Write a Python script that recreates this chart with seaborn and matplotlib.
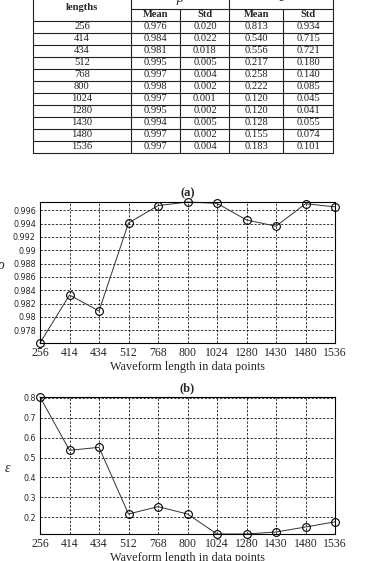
import numpy as np
import pandas as pd
import matplotlib
matplotlib.use("Agg")
import matplotlib.pyplot as plt
import seaborn as sns

# table values
lengths = ["256", "414", "434", "512", "768", "800", "1024", "1280", "1430", "1480", "1536"]
rho_mean = ["0.976", "0.984", "0.981", "0.995", "0.997", "0.998", "0.997", "0.995", "0.994", "0.997", "0.997"]
rho_std = ["0.020", "0.022", "0.018", "0.005", "0.004", "0.002", "0.001", "0.002", "0.005", "0.002", "0.004"]
eps_mean = ["0.813", "0.540", "0.556", "0.217", "0.258", "0.222", "0.120", "0.120", "0.128", "0.155", "0.183"]
eps_std = ["0.934", "0.715", "0.721", "0.180", "0.140", "0.085", "0.045", "0.041", "0.055", "0.074", "0.101"]

# curve values
rho_curve = [0.9761, 0.9833, 0.9809, 0.9941, 0.9967, 0.99725, 0.99705, 0.99455, 0.99362, 0.99699, 0.99652]
eps_curve = [0.803, 0.536, 0.551, 0.217, 0.254, 0.217, 0.117, 0.117, 0.127, 0.152, 0.178]

rho_ticks = [0.978, 0.98, 0.982, 0.984, 0.986, 0.988, 0.99, 0.992, 0.994, 0.996]
eps_ticks = [0.2, 0.3, 0.4, 0.5, 0.6, 0.7, 0.8]

sns.set_style("white")
plt.rcParams["font.family"] = ["Liberation Serif", "DejaVu Serif"]

W, H = 392, 561
fig = plt.figure(figsize=(W / 100, H / 100), dpi=100)

# ---- table, drawn in pixel coords on an overlay ----
tab = fig.add_axes([0, 0, 1, 1])
tab.set_xlim(0, W)
tab.set_ylim(H, 0)
tab.axis("off")

cols = [33.5, 131, 180.5, 229.5, 283.5, 333.5]
row_top = 20.5
row_h = 12
n = len(lengths)
bottom = row_top + n * row_h
lk = dict(color="#222222", lw=0.8)
for x in cols:
    y0 = -1 if x in (cols[0], cols[1], cols[3], cols[5]) else 8.5
    tab.plot([x, x], [y0, bottom], **lk)
tab.plot([cols[1], cols[5]], [8.5, 8.5], **lk)
for i in range(n + 1):
    y = row_top + i * row_h
    tab.plot([cols[0], cols[5]], [y, y], **lk)

fs = 7.6
centers = [82, 155.7, 205, 256.5, 308.5]
tab.text(82, 7, "lengths", ha="center", va="center", fontsize=fs, fontweight="bold")
tab.text(180, -2, "ρ", ha="center", va="center", fontsize=10, style="italic")
tab.text(281, -3, "ε", ha="center", va="center", fontsize=10, style="italic")
for c, lab in zip(centers[1:], ["Mean", "Std", "Mean", "Std"]):
    tab.text(c, 14.8, lab, ha="center", va="center", fontsize=fs, fontweight="bold")
for i in range(n):
    y = row_top + (i + 0.5) * row_h
    row = [lengths[i], rho_mean[i], rho_std[i], eps_mean[i], eps_std[i]]
    for c, v in zip(centers, row):
        tab.text(c, y, v, ha="center", va="center", fontsize=fs, color="#222222")


def panel(rect, values, ticks, title):
    ax = fig.add_axes(rect)
    df = pd.DataFrame({"pos": np.arange(len(lengths)), "val": values})
    sns.lineplot(data=df, x="pos", y="val", ax=ax, color="#333333", lw=0.7,
                 marker="o", markersize=5.6, markerfacecolor="none",
                 markeredgecolor="black", markeredgewidth=0.8)
    for l in ax.lines:
        l.set_clip_on(False)
    # MATLAB-style tight limits
    ax.set_xlim(0, len(lengths) - 1)
    ax.set_ylim(min(values), max(values))
    ax.set_xticks(np.arange(len(lengths)))
    ax.set_xticklabels(lengths, fontsize=8.5)
    ax.set_yticks(ticks)
    ax.set_yticklabels([("%g" % t) for t in ticks], fontsize=5.8, family="DejaVu Sans")
    ax.grid(True, color="black", linestyle=(0, (3, 2)), lw=0.55)
    ax.tick_params(direction="in", length=3, width=0.6, pad=3)
    for s in ax.spines.values():
        s.set_color("black")
        s.set_linewidth(0.8)
    ax.set_xlabel("Waveform length in data points", fontsize=8.8, labelpad=1)
    ax.set_ylabel("")
    ax.set_title(title, fontsize=9, fontweight="bold", pad=4)
    return ax


ax1 = panel([40 / W, 1 - 343 / H, 295 / W, 141 / H], rho_curve, rho_ticks, "(a)")
ax2 = panel([40 / W, 1 - 534 / H, 295 / W, 137 / H], eps_curve, eps_ticks, "(b)")
fig.text(1 / W, 1 - 265 / H, "ρ", fontsize=10, style="italic", ha="center", va="center")
fig.text(7 / W, 1 - 469 / H, "ε", fontsize=10, style="italic", ha="center", va="center")

fig.savefig("out.png", dpi=100)
